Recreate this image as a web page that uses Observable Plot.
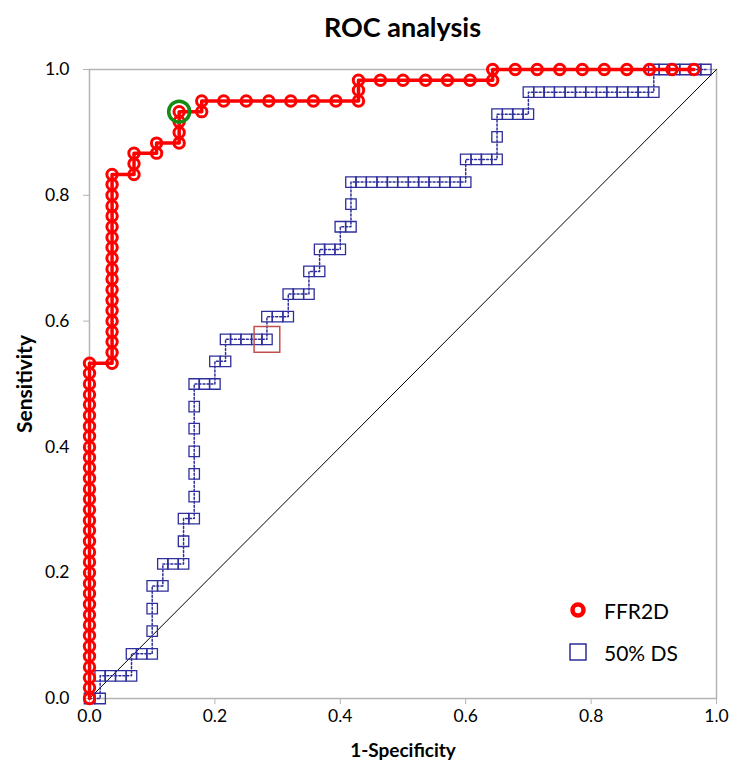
<!DOCTYPE html>
<html>
<head>
<meta charset="utf-8">
<script src="https://cdn.jsdelivr.net/npm/d3@7"></script>
<script src="https://cdn.jsdelivr.net/npm/@observablehq/plot@0.6"></script>
<style>
  body { margin: 0; background: #ffffff; font-family: Lato, "Open Sans", sans-serif; }
  #wrap { position: relative; width: 729px; height: 760px; background: #fff; overflow: hidden; }
  #title { position: absolute; top: 11px; left: 89px; width: 627px; text-align: center;
           font-size: 27px; font-weight: bold; color: #000; line-height: 32px; }
  #chart { position: absolute; top: 50px; left: 0; }
  #legend { position: absolute; left: 568px; top: 598px; font-size: 21px; color: #000; }
  .item { display: flex; align-items: center; height: 24px; margin-bottom: 18px; }
  .item svg { margin-right: 16px; }
  g[aria-label="x-axis label"] text { font-weight: bold; font-size: 19px; }
  g[aria-label="y-axis label"] text { font-weight: bold; font-size: 21px; }
</style>
</head>
<body>
<div id="wrap">
  <div id="title">ROC analysis</div>
  <div id="chart"></div>
  <div id="legend">
    <div class="item"><svg width="20" height="20"><circle cx="10" cy="10" r="5.5" fill="none" stroke="#ff0000" stroke-width="4.5"/></svg><span>FFR2D</span></div>
    <div class="item"><svg width="20" height="20"><rect x="2" y="2" width="16" height="16" fill="none" stroke="#2e2e9c" stroke-width="1.5"/></svg><span>50% DS</span></div>
  </div>
</div>
<script>
// ---- data ----
const xTicks = [0, 0.2, 0.4, 0.6, 0.8, 1.0];
const yTicks = [0, 0.2, 0.4, 0.6, 0.8, 1.0];
const seriesNames = ["FFR2D", "50% DS"];

// FFR2D ROC points [1-specificity, sensitivity]
const ffrPoints = [
  [0,0],[0,.017],[0,.033],[0,.05],[0,.067],[0,.083],[0,.1],[0,.117],[0,.133],[0,.15],
  [0,.167],[0,.183],[0,.2],[0,.217],[0,.233],[0,.25],[0,.267],[0,.283],[0,.3],[0,.317],
  [0,.333],[0,.35],[0,.367],[0,.383],[0,.4],[0,.417],[0,.433],[0,.45],[0,.467],[0,.483],
  [0,.5],[0,.517],[0,.533],
  [.036,.533],[.036,.55],[.036,.567],[.036,.583],[.036,.6],[.036,.617],[.036,.633],[.036,.65],
  [.036,.667],[.036,.683],[.036,.7],[.036,.717],[.036,.733],[.036,.75],[.036,.767],[.036,.783],
  [.036,.8],[.036,.817],[.036,.833],
  [.071,.833],[.071,.85],[.071,.867],
  [.107,.867],[.107,.883],
  [.143,.883],[.143,.9],[.143,.917],[.143,.933],
  [.179,.933],[.179,.95],
  [.214,.95],[.25,.95],[.286,.95],[.321,.95],[.357,.95],[.393,.95],
  [.429,.95],[.429,.967],[.429,.983],
  [.464,.983],[.5,.983],[.536,.983],[.571,.983],[.607,.983],
  [.643,.983],[.643,1],
  [.679,1],[.714,1],[.75,1],[.786,1],[.821,1],[.857,1],[.893,1],[.929,1],[.964,1]
];

// 50% DS ROC points [1-specificity, sensitivity]
const dsPoints = [
  [0,0],[.017,0],
  [.017,.036],[.033,.036],[.05,.036],[.067,.036],
  [.067,.071],[.083,.071],[.1,.071],
  [.1,.107],[.1,.143],[.1,.179],
  [.117,.179],
  [.117,.214],[.133,.214],[.15,.214],
  [.15,.25],[.15,.286],
  [.167,.286],
  [.167,.321],[.167,.357],[.167,.393],[.167,.429],[.167,.464],[.167,.5],
  [.183,.5],[.2,.5],
  [.2,.536],[.217,.536],
  [.217,.571],[.233,.571],[.25,.571],[.267,.571],[.283,.571],
  [.283,.607],[.3,.607],[.317,.607],
  [.317,.643],[.333,.643],[.35,.643],
  [.35,.679],[.367,.679],
  [.367,.714],[.383,.714],[.4,.714],
  [.4,.75],[.417,.75],
  [.417,.786],
  [.417,.821],[.433,.821],[.45,.821],[.467,.821],[.483,.821],[.5,.821],[.517,.821],
  [.533,.821],[.55,.821],[.567,.821],[.583,.821],[.6,.821],
  [.6,.857],[.617,.857],[.633,.857],[.65,.857],
  [.65,.893],
  [.65,.929],[.667,.929],[.683,.929],[.7,.929],
  [.7,.964],[.717,.964],[.733,.964],[.75,.964],[.767,.964],[.783,.964],[.8,.964],
  [.817,.964],[.833,.964],[.85,.964],[.867,.964],[.883,.964],[.9,.964],
  [.9,1],[.917,1],[.933,1],[.95,1],[.967,1],[.983,1]
];

// optimal cut-off points highlighted
const ffrCutoff = [[.143, .933]];
const dsCutoff = [[.283, .571]];
// reference (chance) diagonal
const diagonal = [[0, 0], [1, 1]];

const blue = "#2e2e9c";
const fmt = d3.format(".1f");

const chart = Plot.plot({
  width: 729,
  height: 710,
  marginLeft: 89,
  marginRight: 13,
  marginTop: 19,
  marginBottom: 62,
  x: { domain: [0, 1] },
  y: { domain: [0, 1] },
  style: { fontFamily: "Lato, 'Open Sans', sans-serif", fontSize: "17.5px", background: "#fff", color: "#000" },
  marks: [
    Plot.frame({ stroke: "#b4b4b4", strokeWidth: 1.5 }),
    Plot.axisX({ ticks: xTicks, tickFormat: fmt, tickSize: 6, tickPadding: 5, stroke: "#b4b4b4", fill: "#000",
                 label: "1-Specificity", labelAnchor: "center", labelArrow: "none", labelOffset: 58 }),
    Plot.axisY({ ticks: yTicks, tickFormat: fmt, tickSize: 6, tickPadding: 14, stroke: "#b4b4b4", fill: "#000",
                 label: "Sensitivity", labelAnchor: "center", labelArrow: "none", labelOffset: 72 }),
    Plot.line(diagonal, { x: d => d[0], y: d => d[1], stroke: "#000", strokeWidth: 1 }),
    Plot.line(dsPoints, { x: d => d[0], y: d => d[1], stroke: blue, strokeWidth: 1.5, strokeDasharray: "2,2" }),
    Plot.dot(dsPoints, { x: d => d[0], y: d => d[1], symbol: "square", r: 5.9, stroke: blue, strokeWidth: 1.3, fill: "none" }),
    Plot.line(ffrPoints, { x: d => d[0], y: d => d[1], stroke: "#ff0000", strokeWidth: 3.5 }),
    Plot.dot(ffrPoints, { x: d => d[0], y: d => d[1], r: 5.2, stroke: "#ff0000", strokeWidth: 3, fill: "none" }),
    Plot.dot(ffrCutoff, { x: d => d[0], y: d => d[1], r: 10.5, stroke: "#148c14", strokeWidth: 3.5, fill: "none" }),
    Plot.dot(dsCutoff, { x: d => d[0], y: d => d[1], symbol: "square", r: 14.5, stroke: "#c0504d", strokeWidth: 1.5, fill: "none" })
  ]
});
document.getElementById("chart").appendChild(chart);
</script>
</body>
</html>
